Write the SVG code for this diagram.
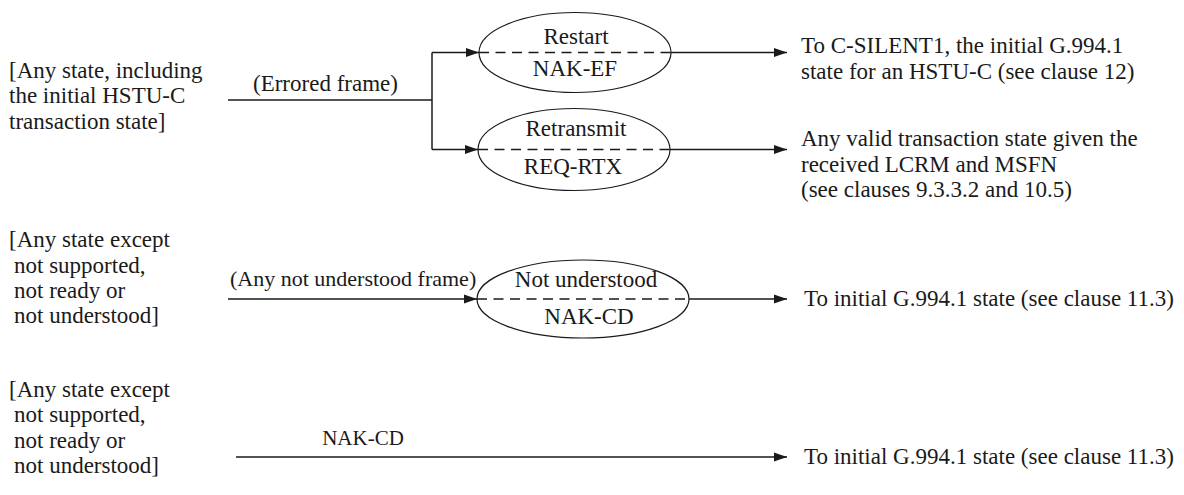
<svg xmlns="http://www.w3.org/2000/svg" width="1184" height="495" viewBox="0 0 1184 495" font-family="Liberation Serif">
<style>
text{font-family:'Liberation Serif','Times New Roman',serif;font-size:23px;fill:#1a1a1a}
.c{text-anchor:middle}
.ell{fill:none;stroke:#1a1a1a;stroke-width:1.2}
.dash{stroke:#1a1a1a;stroke-width:1.5;stroke-dasharray:10 6.5;fill:none}
.ln{stroke:#1a1a1a;stroke-width:1.5;fill:none}
</style>
<defs>
<marker id="ah" markerUnits="userSpaceOnUse" markerWidth="14" markerHeight="10" refX="13" refY="5" orient="auto">
<path d="M0,0.5 L13,5 L0,9.5 Z" fill="#1a1a1a"/>
</marker>
</defs>
<rect width="1184" height="495" fill="#fff"/>

<g id="src1">
<text x="9" y="78">[Any state, including</text>
<text x="9" y="103">the initial HSTU-C</text>
<text x="9" y="129">transaction state]</text>
</g>
<g id="src2">
<text x="9" y="247">[Any state except</text>
<text x="14" y="273">not supported,</text>
<text x="14" y="298">not ready or</text>
<text x="14" y="323">not understood]</text>
</g>
<g id="src3">
<text x="9" y="397">[Any state except</text>
<text x="14" y="422">not supported,</text>
<text x="14" y="448">not ready or</text>
<text x="14" y="473">not understood]</text>
</g>

<g id="restart">
<ellipse class="ell" cx="575" cy="52.5" rx="96" ry="40"/>
<path class="dash" d="M479 52.5 H671"/>
<text class="c" x="576" y="44">Restart</text>
<text class="c" x="575" y="76">NAK-EF</text>
</g>
<g id="retransmit">
<ellipse class="ell" cx="574" cy="149.5" rx="96" ry="41"/>
<path class="dash" d="M478 149.5 H670"/>
<text class="c" x="576" y="136">Retransmit</text>
<text class="c" x="573" y="174">REQ-RTX</text>
</g>
<g id="notunderstood">
<ellipse class="ell" cx="583" cy="299" rx="106" ry="39"/>
<path class="dash" d="M477 299 H689"/>
<text class="c" x="586" y="287">Not understood</text>
<text class="c" x="589" y="324">NAK-CD</text>
</g>

<g id="dest1">
<text x="801" y="53">To C-SILENT1, the initial G.994.1</text>
<text x="801" y="79">state for an HSTU-C (see clause 12)</text>
</g>
<g id="dest2">
<text x="801" y="146">Any valid transaction state given the</text>
<text x="801" y="172">received LCRM and MSFN</text>
<text x="801" y="197">(see clauses 9.3.3.2 and 10.5)</text>
</g>
<g id="dest3">
<text x="804" y="306">To initial G.994.1 state (see clause 11.3)</text>
</g>
<g id="dest4">
<text x="804" y="464">To initial G.994.1 state (see clause 11.3)</text>
</g>

<g id="connectors">
<path class="ln" d="M228 100 H432"/>
<path class="ln" d="M432 52.5 V149.5"/>
<path class="ln" d="M432 52.5 H479" marker-end="url(#ah)"/>
<path class="ln" d="M432 149.5 H478" marker-end="url(#ah)"/>
<path class="ln" d="M671 52.5 H787" marker-end="url(#ah)"/>
<path class="ln" d="M670 149.5 H787" marker-end="url(#ah)"/>
<path class="ln" d="M228 299 H477" marker-end="url(#ah)"/>
<path class="ln" d="M689 299 H787" marker-end="url(#ah)"/>
<path class="ln" d="M236 457 H787" marker-end="url(#ah)"/>
<text x="253" y="91">(Errored frame)</text>
<text x="230" y="286" style="font-size:22px">(Any not understood frame)</text>
<text class="c" x="363" y="445" style="font-size:21px">NAK-CD</text>
</g>
</svg>
